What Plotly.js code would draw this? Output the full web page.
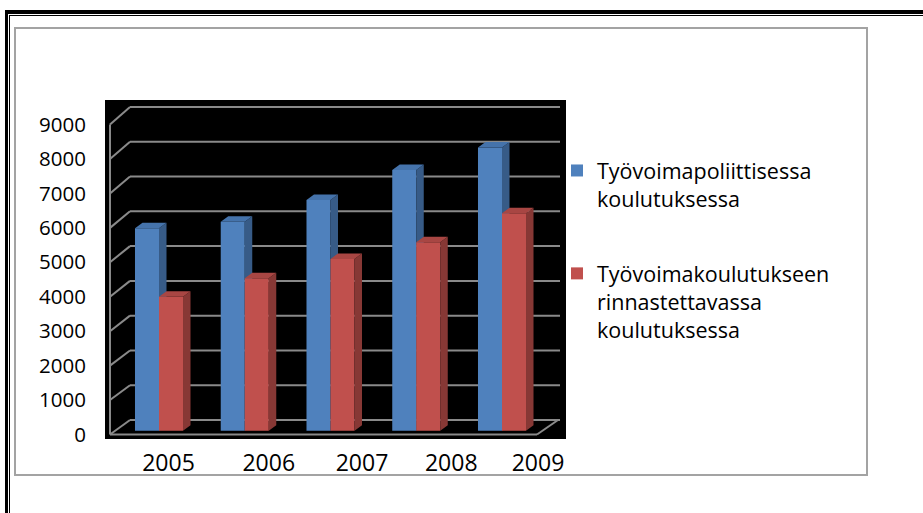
<!DOCTYPE html>
<html>
<head>
<meta charset="utf-8">
<script src="https://cdn.plot.ly/plotly-3.0.1.min.js"></script>
<style>
  html, body { margin: 0; padding: 0; background: #ffffff; }
  #wrap { position: relative; width: 923px; height: 513px; overflow: hidden; background: #ffffff; }
  .bk { position: absolute; background: #000000; }
  #frame { position: absolute; left: 14px; top: 27px; width: 850px; height: 445px; border: 2px solid #a3a3a3; }
  #chart { position: absolute; left: 0; top: 0; width: 923px; height: 513px; }
</style>
</head>
<body>
<div id="wrap">
  <div class="bk" style="left:5px; top:10px; width:918px; height:4px;"></div>
  <div class="bk" style="left:9px; top:15px; width:914px; height:1px;"></div>
  <div class="bk" style="left:5px; top:10px; width:3px; height:503px;"></div>
  <div class="bk" style="left:9px; top:15px; width:1px; height:498px;"></div>
  <div id="frame"></div>
  <div id="chart"></div>
</div>
<script>
// ---- data ----
const years = ['2005', '2006', '2007', '2008', '2009'];
const tyovoimapoliittisessa = [5870, 6060, 6690, 7560, 8210];
const rinnastettavassa = [3880, 4420, 4980, 5460, 6300];
const seriesNames = ['Työvoimapoliittisessa<br>koulutuksessa', 'Työvoimakoulutukseen<br>rinnastettavassa<br>koulutuksessa'];
const yTickValues = [0, 1000, 2000, 3000, 4000, 5000, 6000, 7000, 8000, 9000];

// ---- layout geometry (pixels of the plot area) ----
const P = { l: 105, t: 100, w: 461, h: 339 };
const W = 923, H = 513;
const xRange = [-0.6297, 4.7464];          // category index units
const barY = [-240.6, 9585.5];              // bars (front face) scale
const frontY = [-130.7, 9712.5];            // front wall / tick labels
const backY = [-546.3, 9200.7];             // back wall grid
const bw = 0.28;                            // bar width (index units)
const dX = 0.0875, dY = 159;                // bar depth offset
const labelShift = [0.111, 0.280, 0.367, 0.408, 0.420];

const colors = {
  blue: '#4f81bd', blueTop: '#4573ab', blueSide: '#375b87',
  red: '#c0504d', redTop: '#a84643', redSide: '#873835',
  grid: '#8a8a8a'
};

const px = v => (v - P.l) / P.w;            // pixel x -> paper
const frac = (r, v) => (v - r[0]) / (r[1] - r[0]);

const idx = years.map((_, i) => i);

function faces(values, left, right) {
  const top = { x: [], y: [] }, side = { x: [], y: [] };
  values.forEach((v, i) => {
    const a = i + left, b = i + right;
    top.x.push(a, b, b + dX, a + dX, a, null);
    top.y.push(v, v, v + dY, v + dY, v, null);
    side.x.push(b, b, b + dX, b + dX, b, null);
    side.y.push(0, v, v + dY, dY, 0, null);
  });
  return { top, side };
}

const fb = faces(tyovoimapoliittisessa, -bw, 0);
const fr = faces(rinnastettavassa, 0, bw);

const traces = [
  { type: 'bar', x: idx.map(i => i - bw / 2), y: tyovoimapoliittisessa, width: bw,
    name: seriesNames[0], legendgroup: 'a', xaxis: 'x', yaxis: 'y',
    marker: { color: colors.blue, line: { width: 0 } }, hoverinfo: 'skip' },
  { type: 'scatter', mode: 'lines', x: fb.side.x, y: fb.side.y, fill: 'toself', fillcolor: colors.blueSide,
    line: { width: 0 }, showlegend: false, xaxis: 'x', yaxis: 'y', hoverinfo: 'skip' },
  { type: 'scatter', mode: 'lines', x: fb.top.x, y: fb.top.y, fill: 'toself', fillcolor: colors.blueTop,
    line: { width: 0 }, showlegend: false, xaxis: 'x', yaxis: 'y', hoverinfo: 'skip' },
  { type: 'bar', x: idx.map(i => i + bw / 2), y: rinnastettavassa, width: bw,
    name: seriesNames[1], legendgroup: 'b', xaxis: 'x2', yaxis: 'y2',
    marker: { color: colors.red, line: { width: 0 } }, hoverinfo: 'skip' },
  { type: 'scatter', mode: 'lines', x: fr.side.x, y: fr.side.y, fill: 'toself', fillcolor: colors.redSide,
    line: { width: 0 }, showlegend: false, xaxis: 'x2', yaxis: 'y2', hoverinfo: 'skip' },
  { type: 'scatter', mode: 'lines', x: fr.top.x, y: fr.top.y, fill: 'toself', fillcolor: colors.redTop,
    line: { width: 0 }, showlegend: false, xaxis: 'x2', yaxis: 'y2', hoverinfo: 'skip' }
];

// wall / floor decoration derived from the axis scales
const shapes = [];
const gl = { color: colors.grid, width: 2 };
yTickValues.forEach(v => {
  shapes.push({ type: 'line', layer: 'below', xref: 'paper', yref: 'paper',
    x0: px(130), x1: px(560), y0: frac(backY, v), y1: frac(backY, v), line: gl });
  shapes.push({ type: 'line', layer: 'below', xref: 'paper', yref: 'paper',
    x0: px(110), x1: px(130), y0: frac(frontY, v), y1: frac(backY, v), line: gl });
});
shapes.push({ type: 'line', layer: 'below', xref: 'paper', yref: 'paper',
  x0: px(110), x1: px(110), y0: frac(frontY, 0), y1: frac(frontY, 9000), line: gl });
shapes.push({ type: 'line', layer: 'below', xref: 'paper', yref: 'paper',
  x0: px(110), x1: px(537), y0: frac(frontY, 0), y1: frac(frontY, 0), line: gl });
shapes.push({ type: 'line', layer: 'below', xref: 'paper', yref: 'paper',
  x0: px(537), x1: px(558), y0: frac(frontY, 0), y1: frac(backY, 0), line: gl });

const hiddenAxis = { showgrid: false, zeroline: false, showline: false, showticklabels: false, ticks: '' };

const layout = {
  width: W, height: H,
  margin: { l: P.l, r: W - P.l - P.w, t: P.t, b: H - P.t - P.h, pad: 0 },
  paper_bgcolor: 'rgba(0,0,0,0)',
  plot_bgcolor: '#000000',
  font: { family: 'Open Sans, Noto Sans, sans-serif', color: '#000000' },
  showlegend: true,
  barmode: 'overlay',
  xaxis: { range: xRange, showgrid: false, zeroline: false, showline: false,
    tickmode: 'array', tickvals: idx.map(i => i + labelShift[i]), ticktext: years,
    ticks: '', ticklabelstandoff: 8, tickfont: { size: 23, color: '#000000' } },
  x2: null,
  xaxis2: Object.assign({ range: xRange, overlaying: 'x', anchor: 'y2' }, hiddenAxis),
  yaxis: Object.assign({ range: barY }, hiddenAxis),
  yaxis2: Object.assign({ range: barY, overlaying: 'y', anchor: 'x2' }, hiddenAxis),
  yaxis3: { range: frontY, overlaying: 'y', anchor: 'x', side: 'left', showgrid: false,
    zeroline: false, showline: false, ticks: '', tickmode: 'array', tickvals: yTickValues,
    ticktext: yTickValues.map(String), ticklabelstandoff: 18,
    tickfont: { size: 20.5, color: '#000000' } },
  legend: { x: px(557), xanchor: 'left', y: frac([P.t + P.h, P.t].map((p, k) => p), 0) || 0,
    yanchor: 'top', valign: 'top', traceorder: 'grouped', tracegroupgap: 44,
    bgcolor: 'rgba(0,0,0,0)', borderwidth: 0,
    font: { size: 21.5, color: '#000000', family: 'Open Sans, Noto Sans, sans-serif' } },
  shapes: shapes
};
delete layout.x2;
layout.legend.y = (P.t + P.h - 150) / P.h;

// dummy trace so the label axis (yaxis3) is drawn
traces.push({ type: 'scatter', mode: 'markers', x: [null], y: [null], xaxis: 'x', yaxis: 'y3',
  showlegend: false, hoverinfo: 'skip' });

Plotly.newPlot('chart', traces, layout, { displayModeBar: false, staticPlot: true });
</script>
</body>
</html>
